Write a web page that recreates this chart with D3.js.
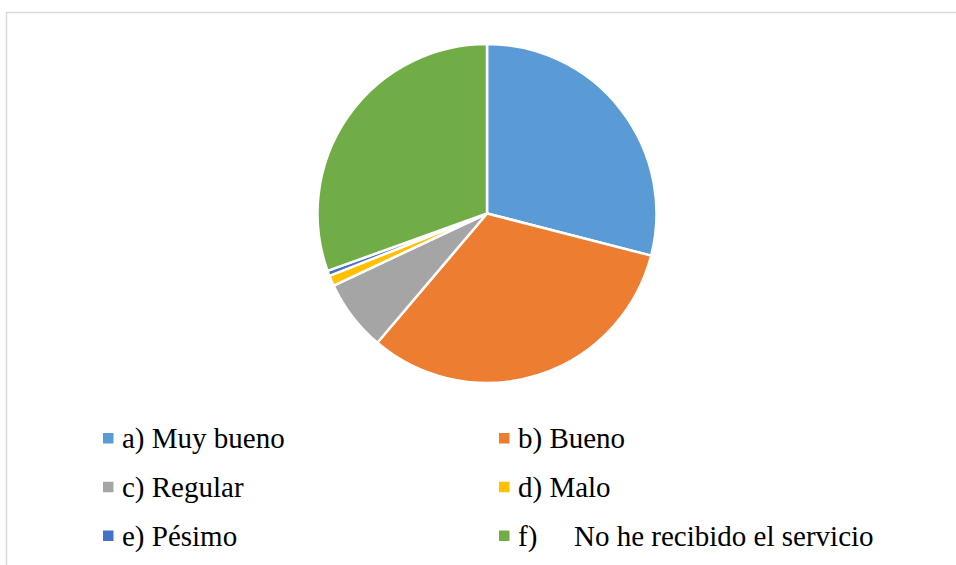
<!DOCTYPE html>
<html lang="es">
<head>
    <meta charset="UTF-8">
    <title>Pie chart</title>
    <script src="https://d3js.org/d3.v7.min.js"></script>
    <style>
        body {
            margin: 0;
            background-color: white;
        }
    </style>
</head>
<body>
    <div id="chart"></div>
    <script>
        // Data (percent of answers)
        const categories = ["a) Muy bueno", "b) Bueno", "c) Regular", "d) Malo", "e) Pésimo", "f)"];
        const values = [29, 32.2, 6.8, 1, 0.5, 30.5];
        const colors = ["#5B9BD5", "#ED7D31", "#A5A5A5", "#FFC000", "#4472C4", "#70AD47"];
        const lastLabelText = "No he recibido el servicio";

        const width = 956;
        const height = 565;
        const fontFamily = "'Liberation Serif', Tinos, 'Times New Roman', 'DejaVu Serif', serif";
        const fontSize = 29;

        const svg = d3.select("#chart")
            .append("svg")
            .attr("width", width)
            .attr("height", height);

        // Chart area border (runs off the right and bottom edges)
        svg.append("rect")
            .attr("x", 6.5)
            .attr("y", 12.5)
            .attr("width", 1000)
            .attr("height", 600)
            .attr("fill", "white")
            .attr("stroke", "#d9d9d9")
            .attr("stroke-width", 1.5);

        const cx = 487, cy = 213.5, radius = 169.5;

        const pie = d3.pie().sort(null).value(d => d);
        const arc = d3.arc().innerRadius(0).outerRadius(radius);

        svg.append("g")
            .attr("transform", `translate(${cx},${cy})`)
            .selectAll("path")
            .data(pie(values))
            .enter()
            .append("path")
            .attr("d", arc)
            .attr("fill", (d, i) => colors[i])
            .attr("stroke", "white")
            .attr("stroke-width", 2.5)
            .attr("stroke-linejoin", "round");

        // Legend: two columns, three rows
        const colX = [103, 499];
        const rowY = d3.scalePoint().domain([0, 1, 2]).range([438.5, 536]);

        const legend = svg.append("g");
        categories.forEach((name, i) => {
            const col = i % 2;
            const row = Math.floor(i / 2);
            const y = rowY(row);
            const g = legend.append("g")
                .attr("transform", `translate(${colX[col]},${y})`);
            g.append("rect")
                .attr("x", 0)
                .attr("y", -5.5)
                .attr("width", 10.5)
                .attr("height", 10.5)
                .attr("fill", colors[i]);
            g.append("text")
                .attr("x", 19)
                .attr("y", 9.5)
                .attr("font-family", fontFamily)
                .attr("font-size", fontSize)
                .attr("fill", "#000")
                .text(name);
            if (i === categories.length - 1) {
                // tab gap after "f)"
                g.append("text")
                    .attr("x", 75)
                    .attr("y", 9.5)
                    .attr("font-family", fontFamily)
                    .attr("font-size", fontSize)
                    .attr("fill", "#000")
                    .text(lastLabelText);
            }
        });
    </script>
</body>
</html>
